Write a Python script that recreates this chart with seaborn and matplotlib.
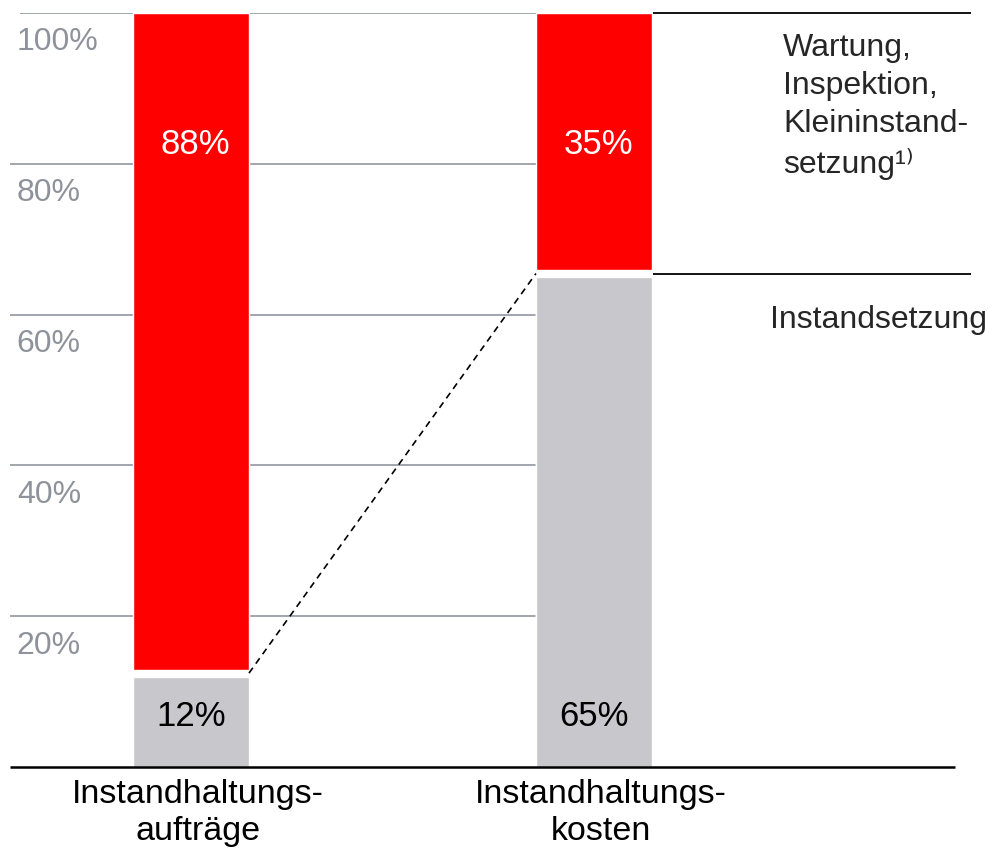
import numpy as np
import pandas as pd
import seaborn as sns
from matplotlib import pyplot as plt

sns.set_style("white")
plt.rcParams['font.family'] = ['Liberation Sans', 'DejaVu Sans']

# data
categories = ['Instandhaltungs-\naufträge', 'Instandhaltungs-\nkosten']
share_red = [88, 35]    # Wartung, Inspektion, Kleininstandsetzung
share_gray = [12, 65]   # Instandsetzung
yticks = [20, 40, 60, 80, 100]
ytick_labels = ['20%', '40%', '60%', '80%', '100%']
segment_labels = ['Wartung,\nInspektion,\nKleininstand-\nsetzung¹⁾', 'Instandsetzung']

RED = '#ff0000'
GRAY = '#c8c8cc'
GRID = '#9a9ea6'
TICK = '#8e939b'
GAP = 0.9
W = 0.288

df = pd.DataFrame({'cat': categories, 'red': share_red, 'gray': share_gray})
df['total'] = df['red'] + df['gray']
df['white'] = df['gray'] + GAP

fig = plt.figure(figsize=(9.88, 8.48), dpi=100)
ax = fig.add_axes([10 / 988, 81 / 848, 960 / 988, 754 / 848])

# gridlines behind bars
ax.hlines(yticks[:-1], -0.449, 1 + W / 2, color=GRID, lw=1.3, zorder=0)
ax.hlines(yticks[-1], -0.424, 1 + W / 2, color=GRID, lw=1.3, zorder=0)

sns.barplot(data=df, x='cat', y='total', color=RED, width=W, saturation=1, ax=ax, zorder=2)
sns.barplot(data=df, x='cat', y='white', color='white', width=W, saturation=1, ax=ax, zorder=2)
sns.barplot(data=df, x='cat', y='gray', color=GRAY, width=W, saturation=1, ax=ax, zorder=2)

ax.set_xlim(-0.449, 1.933)
ax.set_ylim(0, 100)
ax.axis('off')

# baseline and right-side separator lines
ax.hlines(0, -0.449, 1.896, color='black', lw=1.8, zorder=3, clip_on=False)
ax.hlines([df['total'][1], df['gray'][1] + GAP / 2], 1 + W / 2 + 0.003, 1.935,
          color='black', lw=1.3, zorder=3, clip_on=False)

# dashed connector between the segment borders
ax.plot([W / 2, 1 - W / 2], [df['gray'][0] + GAP / 2, df['gray'][1] + GAP / 2],
        color='black', lw=1.2, ls=(0, (4, 3)), zorder=3)

# tick labels under gridlines
for t, lab in zip(yticks, ytick_labels):
    ax.text(-0.432, t - 3.9, lab, ha='left', va='center', color=TICK, fontsize=23)

# values inside bars
for i in range(len(categories)):
    ax.text(i + 0.01, 82.5, f'{share_red[i]}%', ha='center', va='center', color='white', fontsize=25)
    ax.text(i, 6.7, f'{share_gray[i]}%', ha='center', va='center', color='black', fontsize=25)
    ax.text(i + 0.017, -6.1, categories[i], ha='center', va='center', color='black', fontsize=24.5,
            linespacing=1.24)

ax.text(1.469, 87.6, segment_labels[0], ha='left', va='center', fontsize=23, linespacing=1.35)
ax.text(1.437, 59.3, segment_labels[1], ha='left', va='center', fontsize=23)

plt.savefig('out.png', dpi=100)
